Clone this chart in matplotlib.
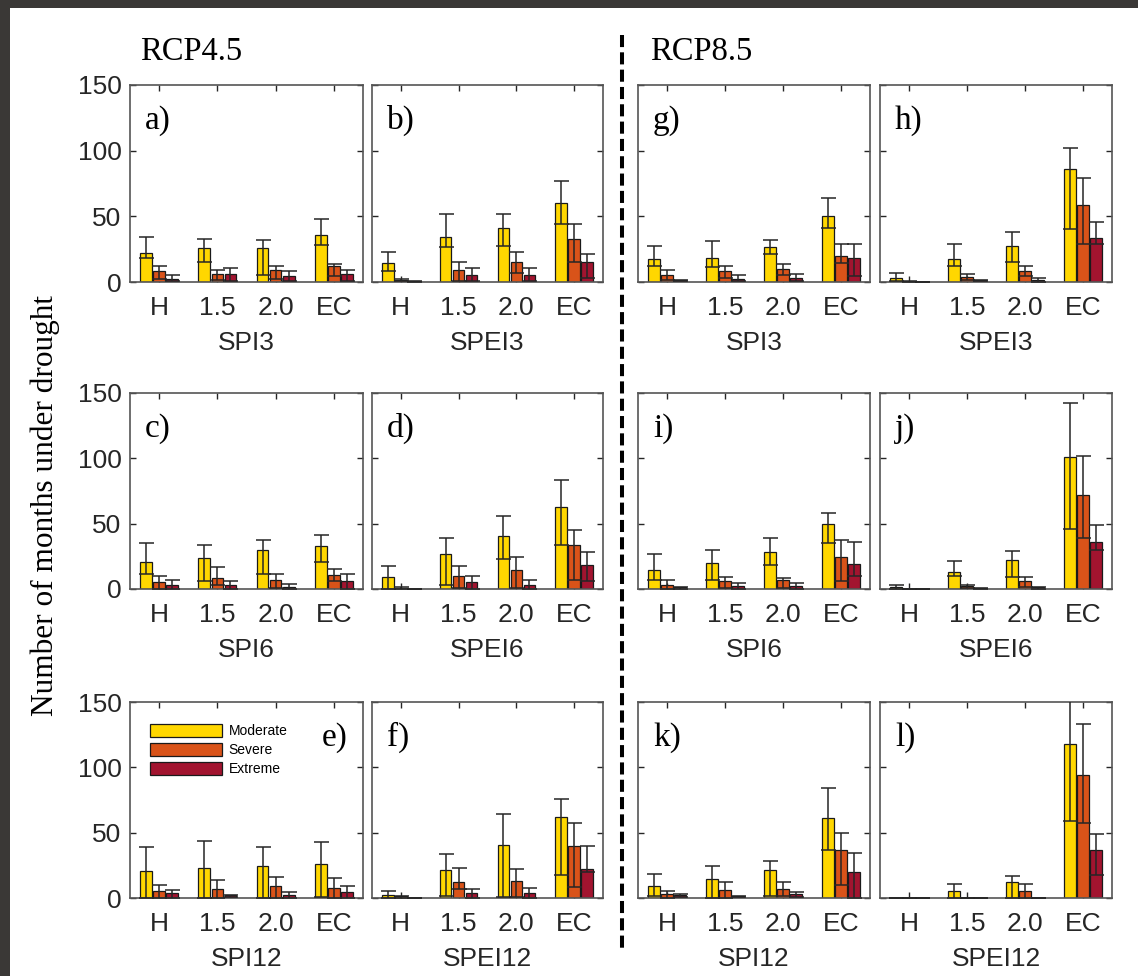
import numpy as np
import matplotlib
matplotlib.use("Agg")
import matplotlib.pyplot as plt
from matplotlib.patches import Patch, Rectangle
from matplotlib.lines import Line2D

# --- data (months under drought), rows = Moderate, Severe, Extreme; cols = H, 1.5, 2.0, EC ---
groups = ["H", "1.5", "2.0", "EC"]
severities = ["Moderate", "Severe", "Extreme"]
colors = ["#FFD700", "#D95319", "#A2142F"]

# RCP4.5
a_val = [[22, 26, 26, 36], [8, 6.4, 9, 12], [2.5, 5.8, 4.3, 5.8]]
a_lo = [[18, 15, 5.6, 28], [2, 1.3, 2.5, 4.3], [0.8, 1, 1, 1]]
a_hi = [[34, 33, 32, 48], [12, 9, 12, 14], [5.6, 11, 8, 9]]

b_val = [[14.7, 34, 41.4, 60], [1.8, 9.4, 15, 33], [0.5, 5, 5, 15]]
b_lo = [[8, 27, 27.7, 44], [0.8, 1, 7, 15.5], [0.2, 0.8, 0.8, 2.8]]
b_hi = [[23, 52, 51.6, 77], [2.3, 15, 23, 44], [0.5, 10.4, 10.4, 21]]

c_val = [[20.4, 23.5, 29.8, 32.7], [5.4, 8.2, 6.9, 10.7], [3.3, 2.8, 1.8, 6.1]]
c_lo = [[11.7, 5.9, 11.7, 20.7], [0.3, 2.8, 1, 6.4], [0.3, 0.3, 0.3, 0.3]]
c_hi = [[35.5, 34, 37.2, 41.3], [9.7, 16.6, 11.5, 15], [6.9, 5.9, 3.8, 11.7]]

d_val = [[8.9, 26.8, 40.6, 62.5], [1, 10, 14.5, 34], [0, 5.1, 3.3, 18.6]]
d_lo = [[0.3, 3, 23, 34], [0.3, 1, 1, 6.6], [0, 0.3, 0.3, 6.1]]
d_hi = [[17.3, 39, 56, 83.7], [1.3, 17.9, 24.2, 45], [0, 10.2, 6.9, 28]]

e_val = [[20.8, 22.6, 24.7, 26.2], [5.3, 6.9, 8.9, 7.9], [3.6, 2, 2.3, 4.6]]
e_lo = [[0, 0, 0, 0.5], [0, 0, 0, 0], [0, 0.8, 0, 0]]
e_hi = [[39.4, 43.7, 38.9, 42.7], [9.9, 13.5, 15.8, 15.5], [6.4, 2.5, 4.6, 8.9]]

f_val = [[2.3, 21.6, 40.4, 62.3], [1.5, 12, 12.7, 40], [0, 3.6, 3.8, 22]]
f_lo = [[0, 1.3, 0.8, 17.8], [0.3, 6.9, 0.8, 8.1], [0, 0, 0, 19.8]]
f_hi = [[5, 33.3, 64, 76], [1.8, 23.1, 22, 57.2], [0, 6.9, 7.4, 40]]

# RCP8.5
g_val = [[17.8, 18.6, 26.7, 50], [5, 8, 9.7, 19.6], [1.5, 2.5, 3.3, 18.3]]
g_lo = [[12, 11.4, 21, 41.4], [1.3, 2.8, 5, 14.5], [0.8, 0.8, 0.8, 4.3]]
g_hi = [[27.5, 31, 32.3, 64], [9, 12, 14, 29], [1.8, 5, 5.8, 28.7]]

h_val = [[3.3, 17.3, 27.5, 86.4], [0.3, 3.6, 8.6, 58.7], [0, 1.5, 1.8, 33.3]]
h_lo = [[0.8, 12.5, 15, 40.7], [0, 1.3, 4.3, 29], [0, 0.8, 0.3, 28.7]]
h_hi = [[6.9, 28.7, 38, 102], [0.5, 6.4, 12, 79], [0, 1.8, 3.3, 45.8]]

i_val = [[14.8, 19.6, 28, 49.7], [3, 6.1, 6.9, 24.5], [1.5, 2, 2.6, 19.4]]
i_lo = [[7.1, 7.1, 18, 35.5], [0.3, 0.8, 0.8, 6.1], [0.3, 0.3, 0.3, 9.7]]
i_hi = [[27, 30, 39, 58.4], [6.6, 9.2, 8.7, 37.8], [1.8, 4.3, 4.6, 35.7]]

j_val = [[1.5, 12.8, 22, 100.8], [0, 2.6, 6.1, 72], [0, 0.5, 1.3, 36]]
j_lo = [[0.3, 10.2, 9.2, 46], [0, 0.8, 1.5, 39], [0, 0.3, 0.3, 30]]
j_hi = [[3.3, 21.2, 29.3, 142], [0, 3.3, 9.2, 101.5], [0, 0.8, 1.8, 49]]

k_val = [[9.4, 14.5, 21.6, 61.5], [2.8, 6.1, 6.9, 36.6], [2.3, 1.3, 2.8, 19.8]]
k_lo = [[1.3, 0, 1.3, 37.1], [0, 0, 1.3, 10.2], [0.8, 0.8, 0.8, 0]]
k_hi = [[18.6, 24.7, 28.5, 83.9], [5.3, 12.2, 12.5, 50], [3.3, 1.5, 4.8, 34.3]]

l_val = [[0, 5.3, 12.5, 117.7], [0, 0, 5.6, 94.3], [0, 0, 0, 36.9]]
l_lo = [[0, 0, 0, 58.7], [0, 0, 0, 57.7], [0, 0, 0, 17.8]]
l_hi = [[0, 10.4, 16.5, 155], [0, 0, 10.9, 133.5], [0, 0, 0, 48.8]]

# panel grid: rows top->bottom, columns left->right
panels = [
    [("a)", "SPI3", a_val, a_lo, a_hi), ("b)", "SPEI3", b_val, b_lo, b_hi),
     ("g)", "SPI3", g_val, g_lo, g_hi), ("h)", "SPEI3", h_val, h_lo, h_hi)],
    [("c)", "SPI6", c_val, c_lo, c_hi), ("d)", "SPEI6", d_val, d_lo, d_hi),
     ("i)", "SPI6", i_val, i_lo, i_hi), ("j)", "SPEI6", j_val, j_lo, j_hi)],
    [("e)", "SPI12", e_val, e_lo, e_hi), ("f)", "SPEI12", f_val, f_lo, f_hi),
     ("k)", "SPI12", k_val, k_lo, k_hi), ("l)", "SPEI12", l_val, l_lo, l_hi)],
]

W, H = 1138, 976
SANS = "Liberation Sans"
SERIF = "Liberation Serif"

fig = plt.figure(figsize=(W / 100, H / 100), dpi=100)
fig.patch.set_facecolor("white")

# dark screenshot border (top and left)
fig.patches.append(Rectangle((0, 1 - 8 / H), 1, 8 / H, transform=fig.transFigure,
                             facecolor="#3a3836", edgecolor="none", zorder=-1))
fig.patches.append(Rectangle((0, 0), 10 / W, 1, transform=fig.transFigure,
                             facecolor="#3a3836", edgecolor="none", zorder=-1))

col_px = [(130, 363), (372, 603), (638, 870), (880, 1112)]
row_px = [(85, 282), (393, 589), (702, 898)]

x = np.arange(1, len(groups) + 1)
offsets = [-0.225, 0.0, 0.225]
bar_w = 0.2

for r, row in enumerate(panels):
    top, bot = row_px[r]
    for c, (letter, xlab, val, lo, hi) in enumerate(row):
        left, right = col_px[c]
        ax = fig.add_axes([left / W, 1 - bot / H, (right - left) / W, (bot - top) / H])
        val = np.array(val, float)
        lo = np.array(lo, float)
        hi = np.array(hi, float)
        for s in range(3):
            ax.bar(x + offsets[s], val[s], width=bar_w, color=colors[s],
                   edgecolor="#1a1a1a", linewidth=0.9, label=severities[s], zorder=2)
            yerr = [np.maximum(val[s] - lo[s], 0), np.maximum(hi[s] - val[s], 0)]
            ax.errorbar(x + offsets[s], val[s], yerr=yerr, fmt="none",
                        ecolor="#262626", elinewidth=1.1, capsize=5.4, capthick=1.1, zorder=3)
        ax.set_xlim(0.5, 4.5)
        ax.set_ylim(0, 150)
        ax.set_xticks(x)
        ax.set_xticklabels(groups)
        ax.set_yticks([0, 50, 100, 150])
        if c != 0:
            ax.set_yticklabels([])
        ax.tick_params(direction="in", length=4, width=1, top=True, right=True,
                       labelsize=19, colors="#262626", labelcolor="#262626")
        ax.tick_params(axis="x", pad=10)
        ax.tick_params(axis="y", pad=6)
        for lab in ax.get_xticklabels() + ax.get_yticklabels():
            lab.set_family(SANS)
        for sp in ax.spines.values():
            sp.set_color("#555555")
            sp.set_linewidth(1.2)
        ax.set_xlabel(xlab, family=SANS, fontsize=19, color="#262626", labelpad=8)

        aw, ah = right - left, bot - top
        if letter == "e)":
            ax.text(1 - 15 / aw, 1 - 20 / ah, letter, transform=ax.transAxes,
                    ha="right", va="top", family=SERIF, fontsize=24)
            leg = ax.legend(handles=[Patch(facecolor=colors[s], edgecolor="#1a1a1a",
                                           linewidth=0.9, label=severities[s]) for s in range(3)],
                            loc="upper left", bbox_to_anchor=(20 / aw, 1 - 22 / ah),
                            frameon=False, borderpad=0, borderaxespad=0,
                            handlelength=5.2, handleheight=1.05, handletextpad=0.45,
                            labelspacing=0.35, prop={"family": SANS, "size": 10})
        else:
            ax.text(15 / aw, 1 - 20 / ah, letter, transform=ax.transAxes,
                    ha="left", va="top", family=SERIF, fontsize=24)

# scenario titles and shared y label
fig.text(140 / W, 1 - 52 / H, "RCP4.5", ha="left", va="center", family=SERIF, fontsize=23.5)
fig.text(650 / W, 1 - 52 / H, "RCP8.5", ha="left", va="center", family=SERIF, fontsize=23.5)
fig.text(45 / W, 1 - 505 / H, "Number of months under drought", rotation=90,
         ha="center", va="center", family=SERIF, fontsize=22.5)

# dashed separator between the two scenarios
fig.add_artist(Line2D([622 / W, 622 / W], [1 - 35 / H, 1 - 952 / H], transform=fig.transFigure,
                      color="black", linewidth=2.9, linestyle=(0, (3, 1.3))))

fig.savefig("out.png", dpi=100)
